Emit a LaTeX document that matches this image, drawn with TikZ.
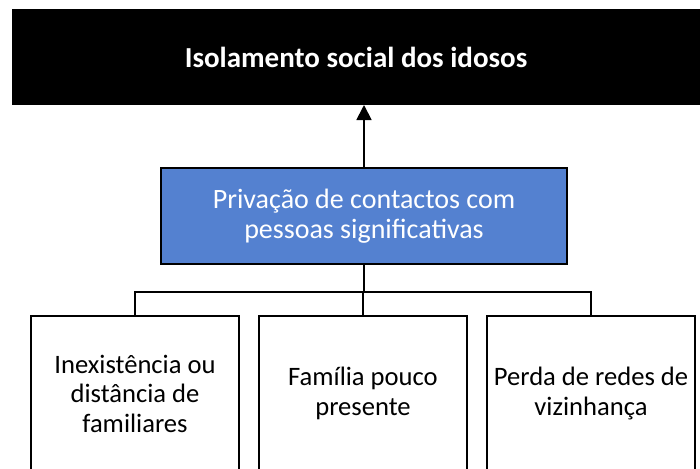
\documentclass[tikz,border=0pt]{standalone}
\usepackage{fontspec}
\setmainfont{Carlito}
\usepackage{tikz}
\usetikzlibrary{positioning,arrows.meta}
\definecolor{causeblue}{RGB}{84,129,208}

\begin{document}
\begin{tikzpicture}[x=1pt,y=-1pt,
	every node/.style={outer sep=0pt},
	factor/.style={draw, line width=1.3pt, fill=white,
		minimum width=208pt, minimum height=155pt,
		align=center, font=\fontsize{26.6}{29.5}\selectfont},
	link/.style={line width=1.3pt}]

\useasboundingbox (0,0) rectangle (700,468);

% Effect
\node [fill=black,
	minimum width=688pt,
	minimum height=96pt,
	text=white,
	font=\fontsize{29}{32}\selectfont\bfseries
] (effect) at (356,57) {
Isolamento social dos idosos
};

% Cause
\node [draw,
	line width=1.3pt,
	fill=causeblue,
	minimum width=406pt,
	minimum height=96pt,
	text=white,
	align=center,
	font=\fontsize{28}{30}\selectfont,
	below = 63pt of effect,
	xshift=8pt
] (cause) {
Privação de contactos com\\pessoas significativas
};

% Factor 1
\node [factor] (distance) at (135,393.5) {
Inexistência ou\\distância de\\familiares
};

% Factor 2
\node [factor, right = 20pt of distance] (family) {
Família pouco\\presente
};

% Factor 3
\node [factor, right = 20pt of family] (neighbours) {
Perda de redes de\\vizinhança
};

% Arrows and tree lines
\draw[-{Triangle[length=15pt,width=15pt]}, line width=1.8pt] (cause.north) -- (cause.north |- effect.south);

\coordinate (fork) at ([yshift=-28pt] cause.south);
\draw[link] (cause.south) -- (fork);
\draw[link] (fork) -| (distance.north);
\draw[link] (fork) -| (family.north);
\draw[link] (fork) -| (neighbours.north);

\end{tikzpicture}
\end{document}
